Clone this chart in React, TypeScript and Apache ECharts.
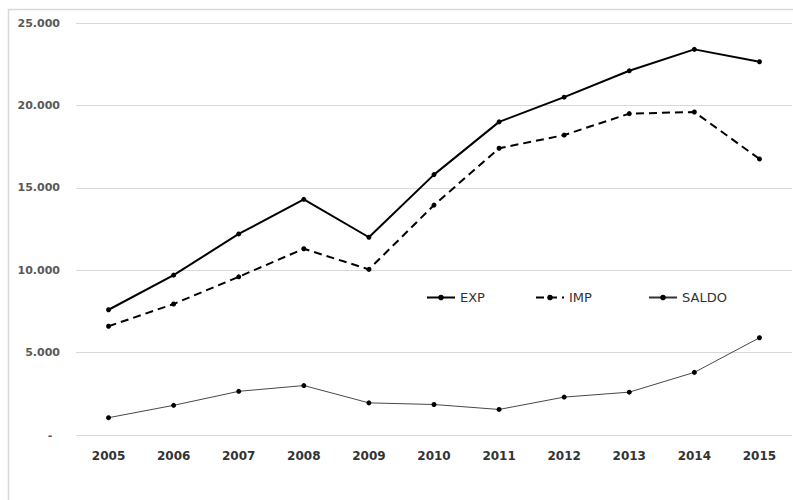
import React, { useEffect, useRef } from "react";
import * as echarts from "echarts";

const years = ["2005", "2006", "2007", "2008", "2009", "2010", "2011", "2012", "2013", "2014", "2015"];
const expValues = [7600, 9700, 12200, 14300, 12000, 15800, 19000, 20500, 22100, 23400, 22650];
const impValues = [6600, 7950, 9600, 11300, 10050, 13950, 17400, 18200, 19500, 19600, 16750];
const saldoValues = [1050, 1800, 2650, 3000, 1950, 1850, 1550, 2300, 2600, 3800, 5900];
const yTicks = { min: 0, max: 25000, interval: 5000 };

const fmt = (v: number) =>
  v === 0 ? "-\u00a0\u00a0" : String(v).replace(/\B(?=(\d{3})+(?!\d))/g, ".");

export default function App() {
  const ref = useRef<HTMLDivElement>(null);
  useEffect(() => {
    document.body.style.margin = "0";
    document.body.style.overflow = "hidden";
    const chart = echarts.init(ref.current!, null, { renderer: "svg" });
    const legendText = { fontFamily: "DejaVu Sans", fontSize: 13, color: "#333333" };
    const legendBase = { top: 286, itemWidth: 28, itemHeight: 7, itemGap: 0, textStyle: legendText };
    chart.setOption({
      animation: false,
      backgroundColor: "#ffffff",
      graphic: [
        {
          type: "rect",
          shape: { x: 8.5, y: 9.5, width: 800, height: 500 },
          style: { fill: "none", stroke: "#d9d9d9", lineWidth: 1.5 },
          silent: true,
        },
      ],
      grid: { left: 76, right: 1, top: 23, bottom: 65 },
      legend: [
        { ...legendBase, data: ["EXP"], left: 421 },
        { ...legendBase, data: ["IMP"], left: 530 },
        { ...legendBase, data: ["SALDO"], left: 643 },
      ],
      xAxis: {
        type: "category",
        data: years,
        boundaryGap: true,
        axisLine: { show: false },
        axisTick: { show: false },
        axisLabel: {
          margin: 15,
          fontFamily: "DejaVu Sans",
          fontWeight: "bold",
          fontSize: 12,
          color: "#333333",
        },
      },
      yAxis: {
        type: "value",
        min: yTicks.min,
        max: yTicks.max,
        interval: yTicks.interval,
        axisLine: { show: false },
        axisTick: { show: false },
        splitLine: { lineStyle: { color: "#d9d9d9", width: 1 } },
        axisLabel: {
          margin: 16,
          formatter: fmt,
          fontFamily: "DejaVu Sans",
          fontWeight: "bold",
          fontSize: 11,
          color: "#595959",
        },
      },
      series: [
        {
          name: "EXP",
          type: "line",
          data: expValues,
          symbol: "circle",
          symbolSize: 5,
          itemStyle: { color: "#000000" },
          lineStyle: { color: "#000000", width: 2 },
        },
        {
          name: "IMP",
          type: "line",
          data: impValues,
          symbol: "circle",
          symbolSize: 5,
          itemStyle: { color: "#000000" },
          lineStyle: { color: "#000000", width: 2, type: [8, 5] },
        },
        {
          name: "SALDO",
          type: "line",
          data: saldoValues,
          symbol: "circle",
          symbolSize: 5,
          itemStyle: { color: "#000000" },
          lineStyle: { color: "#333333", width: 0.9 },
        },
      ],
    });
    return () => chart.dispose();
  }, []);
  return <div ref={ref} style={{ width: 793, height: 500 }} />;
}
